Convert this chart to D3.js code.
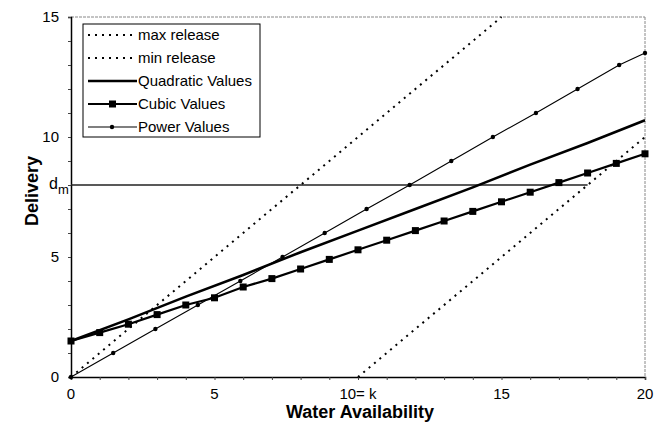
<html>
<head>
<script src="https://d3js.org/d3.v7.min.js"></script>
<style>
  body { margin: 0; background: white; }
  svg text { font-family: Arial, "Liberation Sans", sans-serif; fill: #000; }
</style>
</head>
<body>
<svg></svg>
<script>
// data
var maxRelease = [[0, 0], [15, 15]];
var minRelease = [[10, 0], [20, 10]];
var quadX = [0, 2, 4, 6, 8, 10, 12, 14, 16, 18, 20];
var quadY = [1.5, 2.4, 3.35, 4.25, 5.2, 6.1, 7.0, 7.9, 8.85, 9.75, 10.7];
var cubicX = [0, 1, 2, 3, 4, 5, 6, 7, 8, 9, 10, 11, 12, 13, 14, 15, 16, 17, 18, 19, 20];
var cubicY = [1.5, 1.85, 2.2, 2.6, 3.0, 3.3, 3.75, 4.1, 4.5, 4.9, 5.3, 5.7, 6.1, 6.5, 6.9, 7.3, 7.7, 8.1, 8.5, 8.9, 9.3];
var powerX = [0, 1.47, 2.94, 4.42, 5.9, 7.37, 8.84, 10.3, 11.8, 13.25, 14.7, 16.2, 17.65, 19.1, 20];
var powerY = [0, 1, 2, 3, 4, 5, 6, 7, 8, 9, 10, 11, 12, 13, 13.5];
var dm = 8, dmEnd = 18;
var xTicks = [0, 5, 10, 15, 20];
var xTickLabels = ["0", "5", "10= k", "15", "20"];
var yTicks = [0, 5, 10, 15];

var width = 663, height = 423;
var margin = {top: 17, right: 18, bottom: 46, left: 71};

var svg = d3.select("svg").attr("width", width).attr("height", height);

var x = d3.scaleLinear().domain([0, 20]).range([margin.left, width - margin.right]);
var y = d3.scaleLinear().domain([0, 15]).range([height - margin.bottom, margin.top]);

// frame: top and right in grey dots
svg.append("line")
   .attr("x1", x(0)).attr("x2", x(20)).attr("y1", y(15)).attr("y2", y(15))
   .style("stroke", "#888").style("stroke-width", 1).style("stroke-dasharray", "3,1");
svg.append("line")
   .attr("x1", x(20)).attr("x2", x(20)).attr("y1", y(15)).attr("y2", y(0))
   .style("stroke", "#888").style("stroke-width", 1).style("stroke-dasharray", "3,1");

// axes
var xAxis = svg.append("g")
   .attr("transform", "translate(0," + y(0) + ")")
   .call(d3.axisBottom(x).ticks(20).tickSize(3).tickFormat(""));
var yAxis = svg.append("g")
   .attr("transform", "translate(" + x(0) + ",0)")
   .call(d3.axisLeft(y).ticks(15).tickSize(3).tickFormat(""));
[xAxis, yAxis].forEach(function(a) {
  a.select(".domain").style("stroke", "#000").style("stroke-width", 1.5);
  a.selectAll(".tick line").style("stroke", "#444");
});

svg.append("g").selectAll("text")
   .data(xTicks).enter().append("text")
   .attr("x", function(d) { return x(d); })
   .attr("y", y(0) + 22)
   .attr("text-anchor", "middle")
   .style("font-size", "15px")
   .text(function(d, i) { return xTickLabels[i]; });

svg.append("g").selectAll("text")
   .data(yTicks).enter().append("text")
   .attr("x", x(0) - 12)
   .attr("y", function(d) { return y(d) + 5; })
   .attr("text-anchor", "end")
   .style("font-size", "15px")
   .text(function(d) { return d; });

// d_m label
var dmLab = svg.append("text")
   .attr("x", 49).attr("y", y(dm) + 4)
   .style("font-size", "16px");
dmLab.append("tspan").text("d");
dmLab.append("tspan").attr("dy", 5).style("font-size", "13px").text("m");

// axis titles
svg.append("text")
   .attr("transform", "translate(38," + 191 + ")rotate(-90)")
   .attr("text-anchor", "middle")
   .style("font-size", "18px").style("font-weight", "bold")
   .text("Delivery");
svg.append("text")
   .attr("x", x(10) + 2).attr("y", 418)
   .attr("text-anchor", "middle")
   .style("font-size", "18px").style("font-weight", "bold")
   .text("Water Availability");

var line = d3.line().x(function(d) { return x(d[0]); }).y(function(d) { return y(d[1]); });

// dm horizontal
svg.append("path").datum([[0, dm], [dmEnd, dm]])
   .attr("d", line).style("fill", "none").style("stroke", "#222").style("stroke-width", 1.3);

// release lines
[maxRelease, minRelease].forEach(function(r) {
  svg.append("path").datum(r)
     .attr("d", line).style("fill", "none").style("stroke", "#000")
     .style("stroke-width", 2).style("stroke-dasharray", "2,5");
});

// quadratic
svg.append("path").datum(quadX.map(function(v, i) { return [v, quadY[i]]; }))
   .attr("d", line).style("fill", "none").style("stroke", "#000").style("stroke-width", 2.6);

// cubic
var cubic = cubicX.map(function(v, i) { return [v, cubicY[i]]; });
svg.append("path").datum(cubic)
   .attr("d", line).style("fill", "none").style("stroke", "#000").style("stroke-width", 2.2);
svg.append("g").selectAll("rect")
   .data(cubic).enter().append("rect")
   .attr("x", function(d) { return x(d[0]) - 3.5; })
   .attr("y", function(d) { return y(d[1]) - 3.5; })
   .attr("width", 7).attr("height", 7)
   .style("fill", "#000");

// power
var power = powerX.map(function(v, i) { return [v, powerY[i]]; });
svg.append("path").datum(power)
   .attr("d", line).style("fill", "none").style("stroke", "#000").style("stroke-width", 1.1);
svg.append("g").selectAll("circle")
   .data(power).enter().append("circle")
   .attr("cx", function(d) { return x(d[0]); })
   .attr("cy", function(d) { return y(d[1]); })
   .attr("r", 2.2)
   .style("fill", "#000");

// legend
var legend = svg.append("g");
legend.append("rect")
   .attr("x", 83).attr("y", 24).attr("width", 177).attr("height", 113)
   .style("fill", "white").style("stroke", "#000").style("stroke-width", 1);
var items = ["max release", "min release", "Quadratic Values", "Cubic Values", "Power Values"];
items.forEach(function(name, i) {
  var ly = 35 + i * 23;
  var l = legend.append("line")
     .attr("x1", 88).attr("x2", 137).attr("y1", ly).attr("y2", ly)
     .style("stroke", "#000");
  if (i < 2) l.style("stroke-width", 2).style("stroke-dasharray", "2,5");
  else if (i == 2) l.style("stroke-width", 2.6);
  else if (i == 3) l.style("stroke-width", 2.2);
  else l.style("stroke-width", 1.1);
  if (i == 3) legend.append("rect").attr("x", 109).attr("y", ly - 3.5).attr("width", 7).attr("height", 7);
  if (i == 4) legend.append("circle").attr("cx", 112).attr("cy", ly).attr("r", 2.2);
  legend.append("text")
     .attr("x", 138).attr("y", ly + 5)
     .style("font-size", "15px")
     .text(name);
});
</script>
</body>
</html>
